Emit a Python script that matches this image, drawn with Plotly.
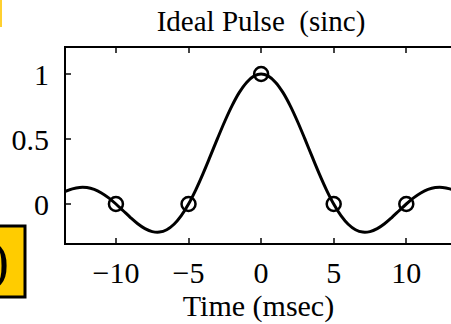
import plotly.graph_objects as go

t_vals = [-13.5, -13.0, -12.5, -12.0, -11.5, -11.0, -10.5, -10.0, -9.5, -9.0, -8.5, -8.0,
          -7.5, -7.0, -6.5, -6.0, -5.5, -5.0, -4.5, -4.0, -3.5, -3.0, -2.5, -2.0, -1.5,
          -1.0, -0.5, 0.0, 0.5, 1.0, 1.5, 2.0, 2.5, 3.0, 3.5, 4.0, 4.5, 5.0, 5.5, 6.0,
          6.5, 7.0, 7.5, 8.0, 8.5, 9.0, 9.5, 10.0, 10.5, 11.0, 11.5, 12.0, 12.5, 13.0, 13.5]
half = [1.0, 0.9836, 0.9355, 0.8584, 0.7568, 0.6366, 0.5046, 0.3679, 0.2339, 0.1093, 0.0,
        -0.0894, -0.1559, -0.1981, -0.2162, -0.2122, -0.1892, -0.1515, -0.1039, -0.0518, 0.0,
        0.0468, 0.0850, 0.1120, 0.1261, 0.1273, 0.1164, 0.0954]
pulse_vals = half[::-1][:-1] + half
sample_t = [-10, -5, 0, 5, 10]
sample_v = [0, 0, 1, 0, 0]
x_ticks = [-10, -5, 0, 5, 10]
y_ticks = [0, 0.5, 1]
y_tick_labels = ["0", "0.5", "1"]

W, H = 451, 324
L, T, B = 66, 48, 243
X_RANGE = [-13.44, 13.08]

def px(p):
    return (p - L) / (W - L)

def py(p):
    return (B - p) / (B - T)

font = "Liberation Serif, Times New Roman, serif"

fig = go.Figure()
fig.add_trace(go.Scatter(x=t_vals, y=pulse_vals, mode="lines", line=dict(color="black", width=3, shape="spline"),
                         hoverinfo="skip", showlegend=False))
fig.add_trace(go.Scatter(x=sample_t, y=sample_v, mode="markers", xaxis="x2",
                         marker=dict(symbol="circle-open", size=14, color="black", line=dict(width=2.5, color="black")),
                         showlegend=False))

fig.update_layout(
    width=W, height=H,
    margin=dict(l=L, r=0, t=T, b=H - B, autoexpand=False),
    paper_bgcolor="white", plot_bgcolor="white",
    font=dict(family=font, size=30, color="black"),
    title=dict(text="Ideal Pulse\u00a0 (sinc)", x=261 / W, xanchor="center", xref="container",
               y=1 - 21 / H, yanchor="middle", yref="container", font=dict(family=font, size=29)),
    xaxis=dict(range=X_RANGE, tickvals=x_ticks, ticks="inside", ticklen=5, tickwidth=2,
               showline=True, linewidth=2, linecolor="black", mirror=False, showgrid=False, zeroline=False,
               automargin=False, ticklabelstandoff=2,
               title=dict(text="Time (msec)", standoff=2, font=dict(family=font, size=30))),
    xaxis2=dict(range=X_RANGE, tickvals=x_ticks, ticks="inside", ticklen=5, tickwidth=2, overlaying="x",
                side="top", showticklabels=False, showline=True, linewidth=2, linecolor="black",
                showgrid=False, zeroline=False, automargin=False),
    yaxis=dict(range=[-0.3, 1.2], tickvals=y_ticks, ticktext=y_tick_labels, ticks="inside", ticklen=5, tickwidth=2,
               showline=True, linewidth=2, linecolor="black", mirror=False, showgrid=False, zeroline=False,
               automargin=False, ticklabelstandoff=9),
    shapes=[
        dict(type="rect", xref="paper", yref="paper", x0=px(-5), x1=px(25), y0=py(297), y1=py(226),
             fillcolor="#FFCC00", line=dict(color="black", width=3), layer="above"),
        dict(type="rect", xref="paper", yref="paper", x0=px(-2), x1=px(2), y0=py(27), y1=py(-2),
             fillcolor="#FFD030", line=dict(width=0), layer="above"),
    ],
    annotations=[
        dict(text=")", xref="paper", yref="paper", x=px(11), y=py(261), xanchor="right", yanchor="middle",
             showarrow=False, font=dict(family="Liberation Serif, Times New Roman, serif", size=54, color="black")),
    ],
)

fig.write_html("out.html", config={"displayModeBar": False},
               post_script="document.body.style.margin='0';document.body.style.overflow='hidden';")
